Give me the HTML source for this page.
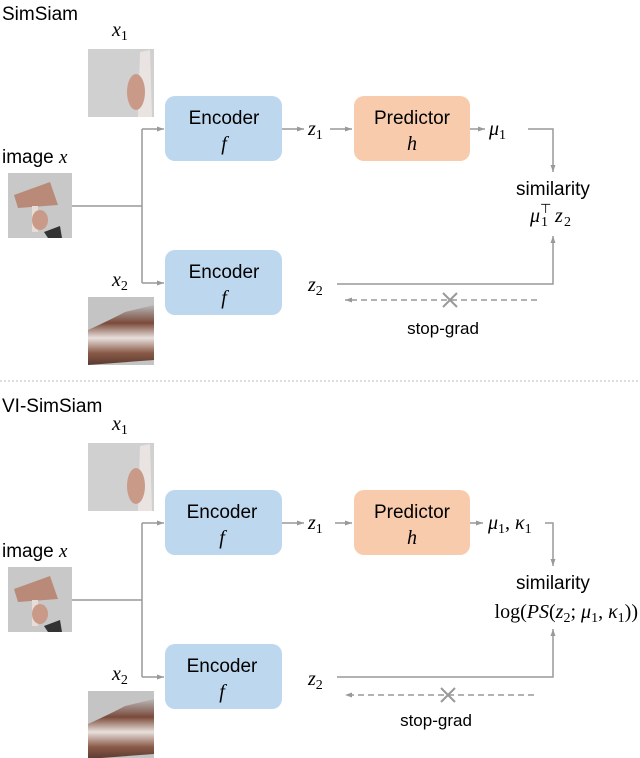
<!DOCTYPE html>
<html><head><meta charset="utf-8"><style>
html,body{margin:0;padding:0;background:#fff;}
svg{display:block;}
.s{font-family:"Liberation Sans",sans-serif;fill:#000;}
.m{font-family:"Liberation Serif",serif;font-style:italic;fill:#000;}
.r{font-family:"Liberation Serif",serif;fill:#000;}
</style></head><body>
<svg width="640" height="758" viewBox="0 0 640 758" xmlns="http://www.w3.org/2000/svg">
<defs>
<marker id="a" markerWidth="8" markerHeight="8" refX="7" refY="4" orient="auto" markerUnits="userSpaceOnUse"><path d="M0,1.5 L7,4 L0,6.5 z" fill="#999"/></marker>
<linearGradient id="dr" x1="0" y1="0" x2="0" y2="1"><stop offset="0" stop-color="#b8b8b8"/><stop offset="0.3" stop-color="#7a4a3a"/><stop offset="0.55" stop-color="#e8e0dc"/><stop offset="0.8" stop-color="#8a5a48"/><stop offset="1" stop-color="#5a3a30"/></linearGradient>
<g id="x1img"><rect x="88" y="49" width="66" height="68" fill="#d0d0d0"/><path d="M140,52 L150,50 L152,117 L138,117 z" fill="#e9e4e2"/><ellipse cx="136" cy="92" rx="9" ry="18" fill="#c99a88"/></g>
<g id="ximg"><rect x="8" y="173" width="64" height="65" fill="#c8c8c8"/><path d="M14,195 L50,182 L58,205 L18,208 z" fill="#b98a78"/><rect x="32" y="206" width="6" height="26" fill="#e8dcd6"/><ellipse cx="40" cy="220" rx="8" ry="10" fill="#c99a88"/><path d="M44,232 L60,226 L62,238 L48,238z" fill="#333"/></g>
<g id="x2img"><rect x="88" y="297" width="66" height="68" fill="#c4c4c4"/><path d="M88,330 Q110,320 125,312 L154,305 L154,360 L88,365 z" fill="url(#dr)"/></g>
</defs>

<text class="s" x="2" y="20" font-size="19">SimSiam</text>
<text class="m" x="112" y="36" font-size="20">x<tspan font-size="14" dy="4" font-style="normal">1</tspan></text>
<use href="#x1img"/>
<text class="s" x="2" y="163" font-size="19">image <tspan class="m">x</tspan></text>
<use href="#ximg"/>
<text class="m" x="112" y="286" font-size="20">x<tspan font-size="14" dy="4" font-style="normal">2</tspan></text>
<use href="#x2img"/>
<g stroke="#999" stroke-width="1.5" fill="none">
<path d="M72,206 H142"/><path d="M142,129 V283"/>
<path d="M142,129 H164" marker-end="url(#a)"/><path d="M142,283 H164" marker-end="url(#a)"/>
<path d="M282,129 H304" marker-end="url(#a)"/><path d="M330,129 H352" marker-end="url(#a)"/>
<path d="M470,129 H485" marker-end="url(#a)"/>
<path d="M528,129 H553 V172" marker-end="url(#a)"/>
<path d="M337,284 H553 V236" marker-end="url(#a)"/>
<path d="M537,300 H345" stroke-dasharray="6,4" marker-end="url(#a)"/>
<path d="M443,293 L457,307 M457,293 L443,307" stroke-width="2"/>
</g>
<rect x="165" y="96" width="117" height="65" rx="10" fill="#bdd7ee"/>
<text class="s" x="224" y="124" font-size="19" text-anchor="middle">Encoder</text>
<text class="m" x="224" y="150" font-size="20" text-anchor="middle">f</text>
<rect x="165" y="250" width="117" height="65" rx="10" fill="#bdd7ee"/>
<text class="s" x="224" y="278" font-size="19" text-anchor="middle">Encoder</text>
<text class="m" x="224" y="304" font-size="20" text-anchor="middle">f</text>
<rect x="354" y="96" width="116" height="65" rx="10" fill="#f8cbad"/>
<text class="s" x="412" y="124" font-size="19" text-anchor="middle">Predictor</text>
<text class="m" x="412" y="150" font-size="20" text-anchor="middle">h</text>
<text class="m" x="308" y="135" font-size="20">z<tspan font-size="14" dy="4" font-style="normal">1</tspan></text>
<text class="m" x="489" y="135" font-size="20">μ<tspan font-size="14" dy="4" font-style="normal">1</tspan></text>
<text class="m" x="308" y="291" font-size="20">z<tspan font-size="14" dy="4" font-style="normal">2</tspan></text>
<text class="s" x="553" y="195" font-size="19" text-anchor="middle">similarity</text>
<text class="m" x="530" y="222" font-size="20">μ</text>
<text class="r" x="541" y="226" font-size="14">1</text>
<text class="r" x="540" y="213" font-size="13">⊤</text>
<text class="m" x="555" y="222" font-size="20">z</text>
<text class="r" x="564" y="226" font-size="14">2</text>
<text class="s" x="443" y="334" font-size="17" text-anchor="middle">stop-grad</text>

<line x1="0" y1="381" x2="640" y2="381" stroke="#bbb" stroke-width="1" stroke-dasharray="2,2"/>

<text class="s" x="2" y="412" font-size="19">VI-SimSiam</text>
<g transform="translate(0,394)">
<text class="m" x="112" y="36" font-size="20">x<tspan font-size="14" dy="4" font-style="normal">1</tspan></text>
<use href="#x1img"/>
<text class="s" x="2" y="163" font-size="19">image <tspan class="m">x</tspan></text>
<use href="#ximg"/>
<text class="m" x="112" y="286" font-size="20">x<tspan font-size="14" dy="4" font-style="normal">2</tspan></text>
<use href="#x2img"/>
<g stroke="#999" stroke-width="1.5" fill="none">
<path d="M72,206 H142"/><path d="M142,129 V283"/>
<path d="M142,129 H164" marker-end="url(#a)"/><path d="M142,283 H164" marker-end="url(#a)"/>
<path d="M282,129 H304" marker-end="url(#a)"/><path d="M335,129 H352" marker-end="url(#a)"/>
<path d="M470,129 H483" marker-end="url(#a)"/>
<path d="M545,129 H553 V172" marker-end="url(#a)"/>
<path d="M337,283 H553 V235" marker-end="url(#a)"/>
<path d="M534,301 H345" stroke-dasharray="6,4" marker-end="url(#a)"/>
<path d="M441,294 L455,308 M455,294 L441,308" stroke-width="2"/>
</g>
<rect x="165" y="96" width="117" height="65" rx="10" fill="#bdd7ee"/>
<text class="s" x="222" y="124" font-size="19" text-anchor="middle">Encoder</text>
<text class="m" x="222" y="150" font-size="20" text-anchor="middle">f</text>
<rect x="165" y="250" width="117" height="65" rx="10" fill="#bdd7ee"/>
<text class="s" x="222" y="278" font-size="19" text-anchor="middle">Encoder</text>
<text class="m" x="222" y="304" font-size="20" text-anchor="middle">f</text>
<rect x="354" y="96" width="116" height="65" rx="10" fill="#f8cbad"/>
<text class="s" x="412" y="124" font-size="19" text-anchor="middle">Predictor</text>
<text class="m" x="412" y="150" font-size="20" text-anchor="middle">h</text>
<text class="m" x="308" y="135" font-size="20">z<tspan font-size="14" dy="4" font-style="normal">1</tspan></text>
<text class="m" x="488" y="135" font-size="20">μ<tspan font-size="14" dy="4" font-style="normal">1</tspan><tspan dy="-4" font-style="normal">, </tspan>κ<tspan font-size="14" dy="4" font-style="normal">1</tspan></text>
<text class="m" x="308" y="291" font-size="20">z<tspan font-size="14" dy="4" font-style="normal">2</tspan></text>
<text class="s" x="553" y="195" font-size="19" text-anchor="middle">similarity</text>
<text class="r" x="638" y="224" font-size="20" text-anchor="end">log(<tspan class="m">PS</tspan>(<tspan class="m">z</tspan><tspan font-size="14" dy="4">2</tspan><tspan dy="-4">;  </tspan><tspan class="m">μ</tspan><tspan font-size="14" dy="4">1</tspan><tspan dy="-4">, </tspan><tspan class="m">κ</tspan><tspan font-size="14" dy="4">1</tspan><tspan dy="-4">))</tspan></text>
<text class="s" x="436" y="332" font-size="17" text-anchor="middle">stop-grad</text>
</g>
</svg>
</body></html>
